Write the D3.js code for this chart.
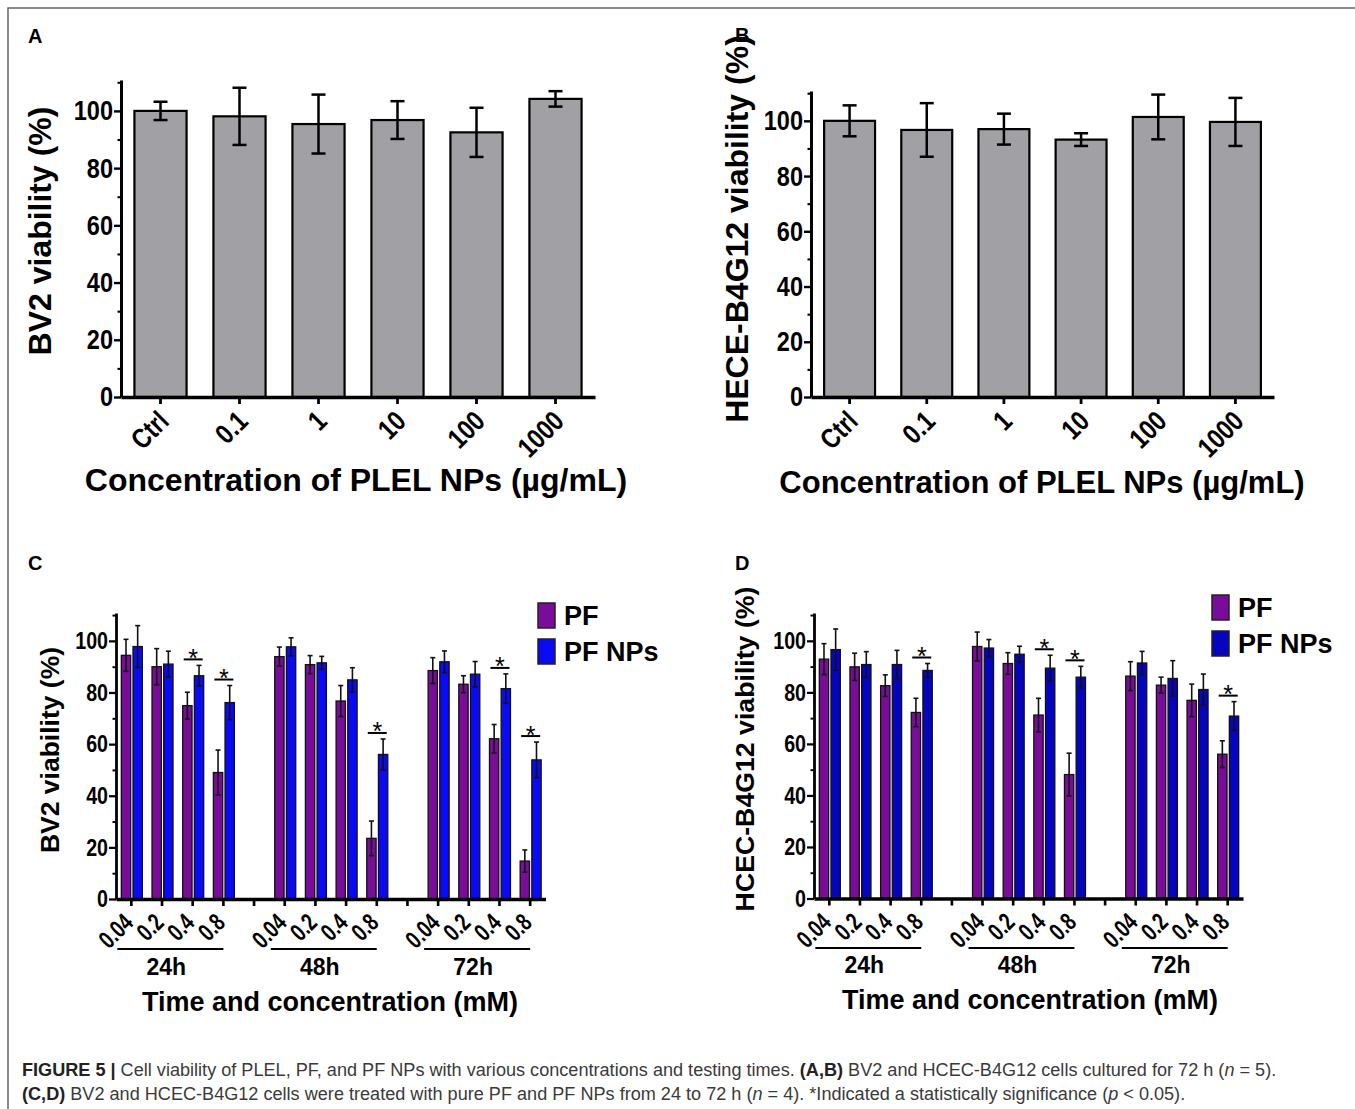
<!DOCTYPE html>
<html>
<head>
<meta charset="utf-8">
<script src="https://cdn.jsdelivr.net/npm/d3@7"></script>
<style>
  body { margin: 0; background: #fff; }
  svg text { font-family: "Liberation Sans", Arial, Helvetica, sans-serif; font-weight: bold; fill: #000; }
</style>
</head>
<body>
<svg id="fig" width="1355" height="1109"></svg>
<script>
// ---- data ----
const concLabels = ["Ctrl", "0.1", "1", "10", "100", "1000"]
const bv2Mean = [100, 98.1, 95.4, 96.8, 92.5, 104.2]
const bv2Err = [3.2, 10, 10.3, 6.6, 8.6, 2.7]
const hcecMean = [100, 96.7, 97, 93.2, 101.4, 99.6]
const hcecErr = [5.6, 9.7, 5.6, 2.3, 8.1, 8.7]

const times = ["24h", "48h", "72h"]
const pfConc = ["0.04", "0.2", "0.4", "0.8"]
const seriesNames = ["PF", "PF NPs"]

// panel C (BV2), order: 24h 0.04..0.8, 48h ..., 72h ...
const bv2PF = [94.4, 90, 74.9, 49, 93.9, 90.8, 76.7, 23.5, 88.5, 83.2, 62.1, 14.7]
const bv2PFErr = [6.2, 7, 5.2, 8.7, 3.7, 3.5, 6, 6.7, 5, 3.3, 5.5, 4.3]
const bv2NP = [97.8, 91, 86.5, 76.1, 97.7, 91.5, 84.9, 56, 91.9, 87.1, 81.5, 53.9]
const bv2NPErr = [8.1, 5, 4, 6.6, 3.5, 2.5, 4.7, 6, 4.2, 4.9, 5.7, 6.9]
const bv2Sig = [2, 3, 7, 10, 11]

// panel D (HCEC-B4G12)
const hcecPF = [92.9, 89.9, 82.6, 72.2, 97.8, 91.2, 71.2, 48.1, 86.3, 82.8, 76.9, 56]
const hcecPFErr = [6, 5.3, 4.2, 5.5, 5.6, 4.2, 6.5, 8.3, 5.6, 3.1, 6.3, 5.2]
const hcecNP = [96.6, 90.8, 90.8, 88.5, 97.2, 94.8, 89.4, 85.9, 91.4, 85.4, 81.1, 70.8]
const hcecNPErr = [8, 5, 5.5, 2.7, 3.3, 3.1, 5, 4.2, 4.5, 6.9, 6, 5.6]
const hcecSig = [3, 6, 7, 11]

const yTicks = [0, 20, 40, 60, 80, 100]
const yMinor = [10, 30, 50, 70, 90, 110]

const svg = d3.select("#fig")
svg.append("rect").attr("width", 1355).attr("height", 1109).attr("fill", "#fff")

// frame (top and left rule)
svg.append("path").attr("d", "M8,1109V8H1355").attr("fill", "none")
    .attr("stroke", "#666").attr("stroke-width", 1.5)

function styleAxis(g, width){
    g.select(".domain").attr("stroke", "#000").attr("stroke-width", width)
    g.selectAll(".tick line").attr("stroke", "#000").attr("stroke-width", width * 0.8)
}

// tick labels in the figure are a condensed bold face: squeeze them horizontally
function yAxes(g, y, p){
    let ax = g.append("g").attr("transform", `translate(${p.left},0)`)
        .call(d3.axisLeft(y).tickValues(yTicks).tickSize(p.tick).tickSizeOuter(0).tickPadding(1))
    ax.selectAll(".tick text")
        .attr("x", -(p.tick + 1) / p.ySqueeze)
        .attr("transform", `scale(${p.ySqueeze},1)`)
        .style("font-size", p.yTickFont + "px")
    styleAxis(ax, p.axisW)
    let minor = g.append("g").attr("transform", `translate(${p.left},0)`)
        .call(d3.axisLeft(y).tickValues(yMinor.filter(v => v < y.domain()[1])).tickSize(p.tick / 2).tickFormat(""))
    minor.select(".domain").remove()
    minor.selectAll(".tick line").attr("stroke", "#000").attr("stroke-width", p.axisW * 0.7)
}

function rotateTicks(xa, p){
    xa.selectAll(".tick text")
        .attr("x", 0).attr("y", 0).attr("dy", "0.35em")
        .attr("text-anchor", "end")
        .attr("transform", `translate(${p.xLabDx},${p.xLabDy}) rotate(-45) scale(${p.xSqueeze},1)`)
        .style("font-size", p.xTickFont + "px")
}

function titles(g, p){
    g.append("text").text(p.letter).attr("x", p.letterX).attr("y", p.letterY)
        .style("font-size", "20px")
    g.append("text").text(p.yTitle)
        .attr("transform", `translate(${p.yTitleX},${p.yTitleY}) rotate(-90)`)
        .attr("text-anchor", "middle").style("font-size", p.yTitleFont + "px")
    g.append("text").text(p.xTitle).attr("x", p.xTitleX).attr("y", p.xTitleY)
        .attr("text-anchor", "middle").style("font-size", p.xTitleFont + "px")
}

// ---- panels A / B ----
function drawSimple(p, means, errs){
    let g = svg.append("g")
    let x = d3.scaleBand().domain(concLabels).range([p.left, p.right])
        .paddingInner(0.34).paddingOuter(0.17)
    let y = d3.scaleLinear().domain([0, 110.8]).range([p.bottom, p.top])

    g.selectAll("rect.bar").data(concLabels).join("rect").attr("class", "bar")
        .attr("x", d => x(d))
        .attr("width", x.bandwidth())
        .attr("y", (d, i) => y(means[i]))
        .attr("height", (d, i) => y(0) - y(means[i]))
        .attr("fill", "#a1a1a5").attr("stroke", "#000").attr("stroke-width", 2.2)

    let eb = g.selectAll("g.err").data(concLabels).join("g").attr("class", "err")
        .attr("transform", d => `translate(${x(d) + x.bandwidth() / 2},0)`)
    eb.append("line").attr("y1", (d, i) => y(means[i] + errs[i])).attr("y2", (d, i) => y(means[i] - errs[i]))
    eb.append("line").attr("x1", -7).attr("x2", 7)
        .attr("y1", (d, i) => y(means[i] + errs[i])).attr("y2", (d, i) => y(means[i] + errs[i]))
    eb.append("line").attr("x1", -7).attr("x2", 7)
        .attr("y1", (d, i) => y(means[i] - errs[i])).attr("y2", (d, i) => y(means[i] - errs[i]))
    eb.selectAll("line").attr("stroke", "#000").attr("stroke-width", 2.5)

    yAxes(g, y, p)

    let xa = g.append("g").attr("transform", `translate(0,${p.bottom})`)
        .call(d3.axisBottom(x).tickSize(p.tick).tickSizeOuter(0))
    styleAxis(xa, p.axisW + 0.5)
    rotateTicks(xa, p)

    titles(g, p)
}

// ---- panels C / D ----
function drawGrouped(p, pf, pfErr, np, npErr, sig){
    let g = svg.append("g")
    // 12 categories + 2 empty slots between time groups
    let x = d3.scaleBand().domain(d3.range(14)).range([p.left, p.right])
    let slotOf = i => i + Math.floor(i / 4)
    let cx = i => x(slotOf(i)) + x.bandwidth() / 2
    let x1 = d3.scaleBand().domain(seriesNames).range([-10, 11]).paddingInner(0.2)
    let y = d3.scaleLinear().domain([0, 110.8]).range([p.bottom, p.top])
    let color = d3.scaleOrdinal().domain(seriesNames).range(p.colors)

    let rows = d3.range(12).flatMap(i => [
        {i: i, s: "PF", v: pf[i], e: pfErr[i]},
        {i: i, s: "PF NPs", v: np[i], e: npErr[i]}
    ])

    g.selectAll("rect.bar").data(rows).join("rect").attr("class", "bar")
        .attr("x", d => cx(d.i) + x1(d.s))
        .attr("width", x1.bandwidth())
        .attr("y", d => y(d.v))
        .attr("height", d => y(0) - y(d.v))
        .attr("fill", d => color(d.s)).attr("stroke", "#111").attr("stroke-width", 1.3)

    let eb = g.selectAll("g.err").data(rows).join("g").attr("class", "err")
        .attr("transform", d => `translate(${cx(d.i) + x1(d.s) + x1.bandwidth() / 2},0)`)
    eb.append("line").attr("y1", d => y(d.v + d.e)).attr("y2", d => y(d.v - d.e))
    eb.append("line").attr("x1", -2.5).attr("x2", 2.5).attr("y1", d => y(d.v + d.e)).attr("y2", d => y(d.v + d.e))
    eb.append("line").attr("x1", -2.5).attr("x2", 2.5).attr("y1", d => y(d.v - d.e)).attr("y2", d => y(d.v - d.e))
    eb.selectAll("line").attr("stroke", "#111").attr("stroke-width", 1.6)

    // significance bars with a star above
    let sg = g.selectAll("g.sig").data(sig).join("g").attr("class", "sig")
        .attr("transform", i => `translate(${cx(i)},${Math.min(y(pf[i] + pfErr[i]), y(np[i] + npErr[i])) - 6})`)
    sg.append("line").attr("x1", x1("PF") + 1).attr("x2", x1("PF NPs") + x1.bandwidth() - 1)
        .attr("stroke", "#000").attr("stroke-width", 2)
    sg.append("text").text("*").attr("x", 0.5).attr("y", 0).attr("dy", 7.5)
        .attr("text-anchor", "middle").style("font-size", "25px").style("font-weight", "normal")

    yAxes(g, y, p)

    let xa = g.append("g").attr("transform", `translate(0,${p.bottom})`)
        .call(d3.axisBottom(x).tickSize(p.tick).tickSizeOuter(0)
            .tickFormat(s => s % 5 === 4 ? "" : pfConc[s % 5]))
    styleAxis(xa, p.axisW + 0.5)
    rotateTicks(xa, p)

    // time group brackets
    let tg = g.selectAll("g.time").data(times).join("g").attr("class", "time")
    tg.append("line")
        .attr("x1", (d, k) => cx(k * 4) - 14).attr("x2", (d, k) => cx(k * 4 + 3))
        .attr("y1", p.bracketY).attr("y2", p.bracketY)
        .attr("stroke", "#000").attr("stroke-width", 1.8)
    tg.append("text").text(d => d)
        .attr("x", (d, k) => (cx(k * 4) - 14 + cx(k * 4 + 3)) / 2 - 4)
        .attr("y", p.timeY).attr("text-anchor", "middle").style("font-size", "23px")

    // legend
    let lg = g.selectAll("g.leg").data(seriesNames).join("g").attr("class", "leg")
        .attr("transform", (d, k) => `translate(${p.legX},${p.legY + k * 36})`)
    lg.append("rect").attr("width", 17).attr("height", 25)
        .attr("fill", d => color(d)).attr("stroke", "#222").attr("stroke-width", 1.5)
    lg.append("text").text(d => d).attr("x", 26).attr("y", 22).style("font-size", "27px")

    titles(g, p)
}

drawSimple({
    left: 121, right: 595, top: 80, bottom: 397, tick: 7, axisW: 3,
    yTickFont: 28, ySqueeze: 0.84, xTickFont: 28, xSqueeze: 0.82, xLabDx: 3, xLabDy: 19,
    letter: "A", letterX: 28, letterY: 43,
    yTitle: "BV2 viability (%)", yTitleX: 51, yTitleY: 231, yTitleFont: 32,
    xTitle: "Concentration of PLEL NPs (\u00b5g/mL)", xTitleX: 356, xTitleY: 491, xTitleFont: 32
}, bv2Mean, bv2Err)

drawSimple({
    left: 811, right: 1274, top: 91, bottom: 397, tick: 7, axisW: 3,
    yTickFont: 28, ySqueeze: 0.84, xTickFont: 28, xSqueeze: 0.82, xLabDx: 3, xLabDy: 19,
    letter: "B", letterX: 735, letterY: 42,
    yTitle: "HECE-B4G12 viability (%)", yTitleX: 748, yTitleY: 229, yTitleFont: 32,
    xTitle: "Concentration of PLEL NPs (\u00b5g/mL)", xTitleX: 1042, xTitleY: 493, xTitleFont: 31
}, hcecMean, hcecErr)

drawGrouped({
    left: 116, right: 545.5, top: 613, bottom: 899, tick: 7, axisW: 2.8,
    yTickFont: 24, ySqueeze: 0.82, xTickFont: 25, xSqueeze: 0.74, xLabDx: -3, xLabDy: 19,
    colors: ["#7a0c9a", "#0a0af5"],
    bracketY: 949, timeY: 975, legX: 538, legY: 603,
    letter: "C", letterX: 28, letterY: 570,
    yTitle: "BV2 viability (%)", yTitleX: 59, yTitleY: 750, yTitleFont: 26.5,
    xTitle: "Time and concentration (mM)", xTitleX: 330, xTitleY: 1011, xTitleFont: 27
}, bv2PF, bv2PFErr, bv2NP, bv2NPErr, bv2Sig)

drawGrouped({
    left: 814, right: 1243, top: 613, bottom: 898.5, tick: 7, axisW: 2.8,
    yTickFont: 24, ySqueeze: 0.82, xTickFont: 25, xSqueeze: 0.74, xLabDx: -3, xLabDy: 19,
    colors: ["#7a0c9a", "#0505c0"],
    bracketY: 948, timeY: 973, legX: 1212, legY: 595,
    letter: "D", letterX: 735, letterY: 570,
    yTitle: "HCEC-B4G12 viability (%)", yTitleX: 754, yTitleY: 749, yTitleFont: 26.7,
    xTitle: "Time and concentration (mM)", xTitleX: 1030, xTitleY: 1009, xTitleFont: 27
}, hcecPF, hcecPFErr, hcecNP, hcecNPErr, hcecSig)

// ---- caption ----
const captionLines = [
    [["FIGURE 5 | ", "b"], ["Cell viability of PLEL, PF, and PF NPs with various concentrations and testing times. ", ""],
     ["(A,B)", "b"], [" BV2 and HCEC-B4G12 cells cultured for 72 h (", ""], ["n", "i"], [" = 5).", ""]],
    [["(C,D)", "b"], [" BV2 and HCEC-B4G12 cells were treated with pure PF and PF NPs from 24 to 72 h (", ""],
     ["n", "i"], [" = 4). *Indicated a statistically significance (", ""], ["p", "i"], [" < 0.05).", ""]]
]
let cap = svg.append("g").attr("class", "caption")
captionLines.forEach((line, k) => {
    let t = cap.append("text").attr("x", 0).attr("y", 0)
        .attr("transform", `translate(22,${1076 + k * 23.5})`).style("font-size", "18.5px")
    line.forEach(([s, f]) => {
        t.append("tspan").text(s)
            .style("font-weight", f === "b" ? "bold" : "normal")
            .style("font-style", f === "i" ? "italic" : "normal")
            .style("fill", f === "b" ? "#222" : "#3a3a3a")
    })
})
// condensed caption face: squeeze the first line to its printed width, same squeeze for the second
let w0 = cap.select("text").node().getComputedTextLength()
let sx = 1255 / w0
cap.selectAll("text").attr("transform", (d, k) => `translate(22,${1076 + k * 23.5}) scale(${sx},1)`)
</script>
</body>
</html>
